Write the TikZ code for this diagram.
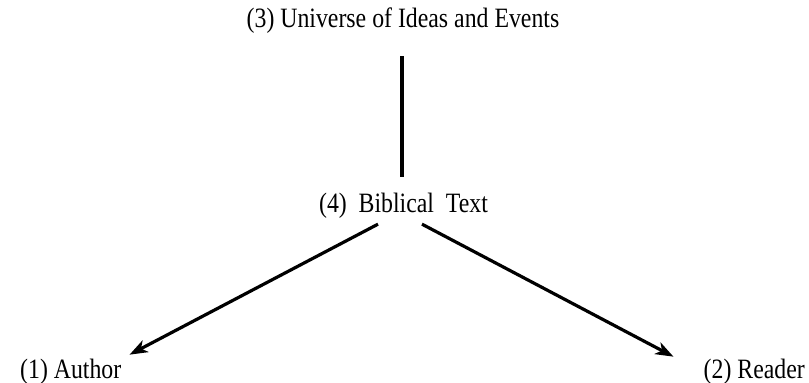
\documentclass[tikz,border=0pt]{standalone}
\usepackage{fontspec}
\setmainfont{Liberation Serif}[FakeStretch=0.85]
\usepackage{tikz}
\usetikzlibrary{arrows.meta,positioning,calc}

\begin{document}
\begin{tikzpicture}[
  x=1pt, y=-1pt,
  every node/.style={font=\fontsize{28}{32}\selectfont, inner sep=0pt},
  link/.style={line width=4pt, color=black},
  arr/.style={-{Stealth[length=18pt, width=13pt, inset=5pt]}, line width=3.2pt, color=black}
]
  \useasboundingbox (0,0) rectangle (809,383);

  \node[anchor=base] (univ) at (403,27)  {(3) Universe of Ideas and Events};
  \node[anchor=base] (bib)  at (403.5,212) {(4)\ \ Biblical\ \ Text};
  \node[anchor=base west] (auth) at (20,378)  {(1) Author};
  \node[anchor=base east] (read) at (805,378) {(2) Reader};

  \draw[link] ($(univ.south)+(-1,23)$) -- ($(bib.north)+(-1.5,-15.7)$);

  \draw[arr] ($(bib.south)+(-25.5,6)$) -- ($(auth.north east)+(8,-3.7)$);
  \draw[arr] ($(bib.south)+(18.5,6)$) -- ($(read.north west)+(-30,-1.7)$);
\end{tikzpicture}
\end{document}
